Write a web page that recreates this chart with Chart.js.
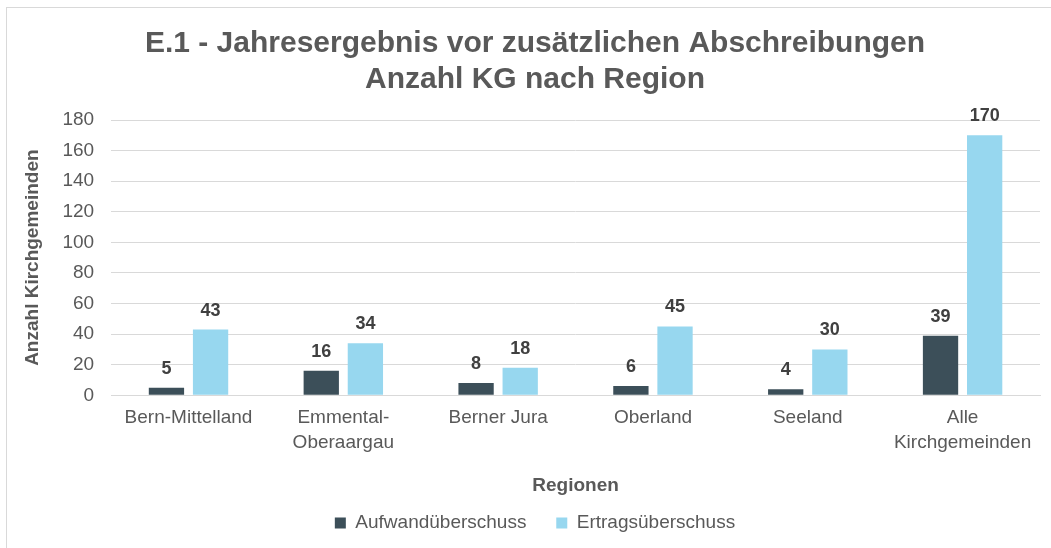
<!DOCTYPE html>
<html>
<head>
<meta charset="utf-8">
<script src="https://cdn.jsdelivr.net/npm/chart.js@4"></script>
<style>
  html, body { margin: 0; padding: 0; background: #fff; }
  #wrap { position: relative; width: 1051px; height: 548px; overflow: hidden; }
  #frame { position: absolute; left: 6px; top: 7px; width: 1100px; height: 600px;
           border-top: 1px solid #d9d9d9; border-left: 1px solid #d9d9d9; }
  canvas { position: absolute; left: 0; top: 0; }
</style>
</head>
<body>
<div id="wrap">
  <div id="frame"></div>
  <canvas id="chart" width="1051" height="548"></canvas>
</div>
<script>
const regions = ["Bern-Mittelland", ["Emmental-", "Oberaargau"], "Berner Jura", "Oberland", "Seeland", ["Alle", "Kirchgemeinden"]];
const aufwand = [5, 16, 8, 6, 4, 39];
const ertrag = [43, 34, 18, 45, 30, 170];
const yTicks = [0, 20, 40, 60, 80, 100, 120, 140, 160, 180];

const font = "'Liberation Sans', Arial, sans-serif";
const grey = "#595959";

// value labels above the bars
const barLabels = {
    id: "barLabels",
    afterDatasetsDraw(chart) {
        const ctx = chart.ctx;
        ctx.save();
        ctx.font = "bold 18px " + font;
        ctx.fillStyle = "#404040";
        ctx.textAlign = "center";
        ctx.textBaseline = "middle";
        chart.data.datasets.forEach(function (ds, i) {
            chart.getDatasetMeta(i).data.forEach(function (bar, j) {
                ctx.fillText(ds.data[j], bar.x, bar.y - 19);
            });
        });
        ctx.restore();
    }
};

new Chart(document.getElementById("chart").getContext("2d"), {
    type: "bar",
    data: {
        labels: regions,
        datasets: [
            { label: "Aufwandüberschuss", data: aufwand, backgroundColor: "#3C4F59" },
            { label: "Ertragsüberschuss", data: ertrag, backgroundColor: "#97D7EF" }
        ]
    },
    options: {
        responsive: false,
        animation: false,
        devicePixelRatio: 1,
        categoryPercentage: 0.57,
        barPercentage: 0.8,
        layout: { padding: { top: 8, left: 30, right: 11, bottom: 5.5 } },
        plugins: {
            title: {
                display: true,
                text: ["E.1 - Jahresergebnis vor zusätzlichen Abschreibungen", "Anzahl KG nach Region"],
                color: grey,
                font: { family: font, size: 30, weight: "bold", lineHeight: 1.2 },
                padding: { top: 18, bottom: 22 }
            },
            legend: {
                position: "bottom",
                labels: {
                    color: grey,
                    font: { family: font, size: 19 },
                    boxWidth: 11,
                    boxHeight: 11,
                    padding: 14,
                    generateLabels(chart) {
                        const items = Chart.defaults.plugins.legend.labels.generateLabels(chart);
                        // wider gap between the two entries
                        items[0].text = items[0].text + "   ";
                        return items;
                    }
                }
            },
            tooltip: { enabled: false }
        },
        scales: {
            x: {
                grid: { display: false, drawTicks: false },
                border: { color: "#d9d9d9" },
                ticks: { color: grey, font: { family: font, size: 19, lineHeight: 1.3 }, maxRotation: 0, padding: 10 },
                title: {
                    display: true,
                    text: "Regionen",
                    color: grey,
                    font: { family: font, size: 19, weight: "bold", lineHeight: 1.2 },
                    padding: { top: 10, bottom: 2 }
                }
            },
            y: {
                min: 0,
                max: 180,
                afterBuildTicks(axis) {
                    axis.ticks = yTicks.map(function (v) { return { value: v }; });
                },
                grid: { color: "#d9d9d9", drawTicks: false },
                border: { display: false },
                ticks: { color: grey, font: { family: font, size: 19 }, padding: 17 },
                title: {
                    display: true,
                    text: "Anzahl Kirchgemeinden",
                    color: grey,
                    font: { family: font, size: 19, weight: "bold", lineHeight: 1.2 },
                    padding: { top: -8.4, bottom: 1 }
                }
            }
        }
    },
    plugins: [barLabels]
});
</script>
</body>
</html>
